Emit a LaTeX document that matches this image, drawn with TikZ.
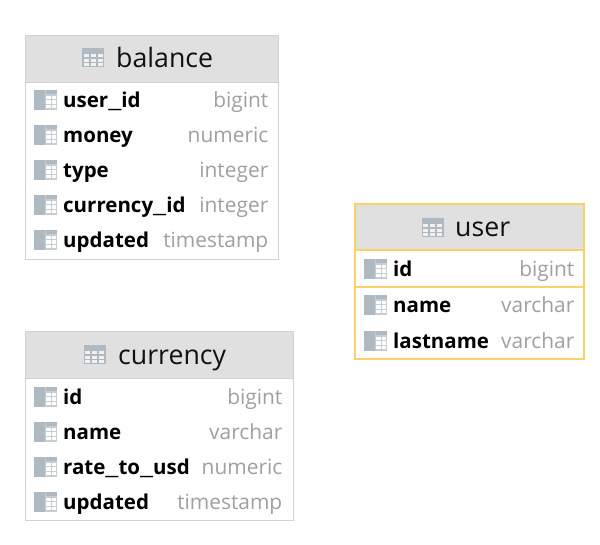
\documentclass[tikz,border=0pt]{standalone}
\usepackage{fontspec}
\setmainfont{Open Sans}
\definecolor{hdr}{HTML}{E0E0E0}
\definecolor{edge}{HTML}{D2D2D2}
\definecolor{sel}{HTML}{FBD167}
\definecolor{ico}{HTML}{AEB9C2}
\definecolor{typ}{HTML}{A0A0A0}
\definecolor{ink}{HTML}{111111}
\newcommand{\usc}{\scalebox{1.55}[1]{\_}}
\tikzset{
  x=1pt,y=-1pt,
  title/.style={anchor=base west,inner sep=0pt,text=ink,font=\fontsize{26.7}{26}\selectfont},
  colname/.style={anchor=base west,inner sep=0pt,text=black,font=\fontsize{20.5}{20}\selectfont\bfseries},
  coltype/.style={anchor=base east,inner sep=0pt,text=typ,font=\fontsize{20.9}{20}\selectfont},
  hdrico/.pic={
    \fill[ico] (-11,-9.5) rectangle (11,9.5);
    \foreach \yy in {-3.5,1.5,5.8} \foreach \xx in {-9.5,-2.5,4.5} \fill[hdr!45!white] (\xx,\yy) rectangle +(5.2,3);
  },
  colico/.pic={
    \fill[ico] (-11,-10) rectangle (0,10);
    \fill[ico!70!white] (0,-10) rectangle (11.5,10);
    \fill[ico] (1,-10) rectangle (11.5,-5.5);
    \foreach \yy in {-4,0.7,5.4} \foreach \xx in {1.4,6.6} \fill[white] (\xx,\yy) rectangle +(4.2,3.4);
  },
}
\newcommand{\rowat}[6]{% name, icon x, y, name text, type right x, type
  \pic at (#2,#3-0.5) {colico};
  \node[colname] (#1n) at (#2+18,#3+7) {#4};
  \node[coltype] (#1t) at (#5,#3+7) {#6};
}
\begin{document}
\begin{tikzpicture}
\useasboundingbox (0,0) rectangle (600,544);
\fill[white] (0,0) rectangle (600,544);
% balance
\fill[hdr] (25,35) rectangle (278,82);
\draw[edge,line width=1pt] (25,35) rectangle (278,259);
\draw[edge,line width=1pt] (25,82) -- (278,82);
\pic at (93,57.5) {hdrico};
\node[title] (balance) at (116,67) {balance};
\rowat{b1}{45}{100}{user\usc id}{268.5}{bigint}
\rowat{b2}{45}{135}{money}{268.5}{numeric}
\rowat{b3}{45}{170}{type}{268.5}{integer}
\rowat{b4}{45}{205}{currency\usc id}{268.5}{integer}
\rowat{b5}{45}{240}{updated}{268.5}{timestamp}
% currency
\fill[hdr] (25,331) rectangle (293,378);
\draw[edge,line width=1pt] (25,331) rectangle (293,520);
\draw[edge,line width=1pt] (25,378) -- (293,378);
\pic at (94.5,354.5) {hdrico};
\node[title] (currency) at (118,364) {currency};
\rowat{c1}{45}{397}{id}{282.5}{bigint}
\rowat{c2}{45}{432}{name}{282.5}{varchar}
\rowat{c3}{45}{467}{rate\usc to\usc usd}{282.5}{numeric}
\rowat{c4}{45}{502}{updated}{282.5}{timestamp}
% user
\fill[hdr] (355,204) rectangle (584,250);
\draw[sel,line width=1.2pt] (355,204) rectangle (584,359);
\draw[sel,line width=1.2pt] (355,250) -- (584,250);
\draw[sel,line width=1.2pt] (355,287) -- (584,287);
\pic at (432.5,227) {hdrico};
\node[title] (user) at (455,236.5) {user};
\rowat{u1}{375}{269}{id}{574.5}{bigint}
\rowat{u2}{375}{305}{name}{574.5}{varchar}
\rowat{u3}{375}{341}{lastname}{574.5}{varchar}
\end{tikzpicture}
\end{document}
